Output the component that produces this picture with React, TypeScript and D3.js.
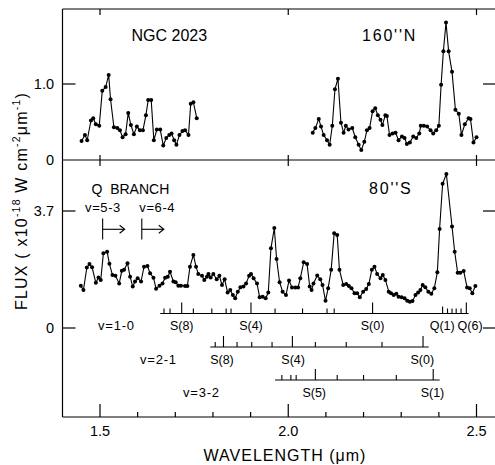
import React from 'react';
import * as d3 from 'd3';

// ---- data: [wavelength (µm), flux] ----
const north160W: [number, number][] = [
  [1.451,0.25],[1.460,0.33],[1.466,0.26],[1.476,0.52],[1.482,0.55],[1.489,0.47],[1.498,0.45],[1.506,0.91],
  [1.515,0.96],[1.523,1.12],[1.528,0.80],[1.537,0.43],[1.546,0.42],[1.553,0.39],[1.560,0.30],[1.568,0.34],
  [1.575,0.62],[1.582,0.46],[1.590,0.34],[1.598,0.44],[1.606,0.39],[1.614,0.39],[1.622,0.59],[1.628,0.79],
  [1.636,0.79],[1.643,0.26],[1.651,0.40],[1.660,0.40],[1.668,0.19],[1.676,0.29],[1.684,0.33],[1.690,0.35],
  [1.697,0.26],[1.703,0.20],[1.711,0.33],[1.719,0.38],[1.726,0.39],[1.735,0.33],[1.741,0.74],[1.748,0.76],
  [1.757,0.55],
];
const north160E: [number, number][] = [
  [2.065,0.36],[2.072,0.42],[2.081,0.54],[2.087,0.44],[2.094,0.33],[2.103,0.26],[2.110,0.20],[2.117,0.45],
  [2.124,0.93],[2.132,1.07],[2.140,0.49],[2.147,0.36],[2.153,0.45],[2.160,0.40],[2.170,0.42],[2.178,0.30],
  [2.187,0.20],[2.194,0.13],[2.202,0.24],[2.209,0.39],[2.216,0.42],[2.224,0.64],[2.231,0.68],[2.238,0.59],
  [2.245,0.53],[2.250,0.46],[2.258,0.59],[2.262,0.58],[2.269,0.33],[2.277,0.35],[2.285,0.36],[2.293,0.26],
  [2.302,0.31],[2.309,0.29],[2.315,0.21],[2.323,0.23],[2.332,0.31],[2.340,0.29],[2.348,0.35],[2.352,0.45],
  [2.360,0.45],[2.369,0.44],[2.378,0.39],[2.385,0.35],[2.393,0.39],[2.400,0.45],[2.406,0.99],[2.412,1.43],
  [2.419,1.81],[2.426,1.43],[2.435,1.16],[2.444,0.66],[2.453,0.61],[2.460,0.33],[2.469,0.47],[2.479,0.55],
  [2.484,0.54],[2.492,0.23],[2.500,0.30],
];
const south80: [number, number][] = [
  [1.449,1.34],[1.456,1.20],[1.465,1.91],[1.472,2.02],[1.479,1.92],[1.489,1.43],[1.496,1.60],[1.502,1.52],
  [1.509,2.36],[1.519,2.41],[1.525,2.03],[1.533,1.68],[1.541,1.65],[1.551,1.41],[1.558,1.81],[1.564,1.84],
  [1.573,2.05],[1.580,1.62],[1.587,1.31],[1.593,1.47],[1.600,1.57],[1.609,1.47],[1.617,1.94],[1.626,1.96],
  [1.633,1.73],[1.642,1.59],[1.649,1.24],[1.658,1.34],[1.666,1.41],[1.673,1.59],[1.680,1.62],[1.686,1.78],
  [1.695,1.47],[1.701,1.45],[1.708,1.34],[1.715,1.34],[1.726,1.33],[1.732,1.33],[1.739,1.94],[1.748,2.31],
  [1.755,1.94],[1.761,1.71],[1.771,1.65],[1.777,1.52],[1.784,1.62],[1.788,1.71],[1.794,1.60],[1.801,1.71],
  [1.810,1.54],[1.817,1.65],[1.824,1.36],[1.831,1.54],[1.839,1.12],[1.846,1.20],[1.853,1.04],[1.859,0.94],
  [1.866,1.15],[1.873,1.29],[1.881,1.31],[1.888,1.41],[1.896,1.65],[1.901,1.71],[1.908,1.57],[1.917,1.41],
  [1.924,0.97],[1.932,0.99],[1.940,0.94],[1.947,1.12],[1.954,2.52],[1.963,3.16],[1.969,2.18],[1.977,1.45],
  [1.985,1.15],[1.994,1.04],[2.002,1.50],[2.010,1.28],[2.019,1.28],[2.026,1.28],[2.032,1.57],[2.041,2.08],
  [2.050,2.02],[2.057,1.31],[2.062,1.20],[2.067,1.41],[2.077,1.66],[2.085,1.54],[2.091,1.36],[2.099,0.86],
  [2.106,1.26],[2.114,1.84],[2.122,3.00],[2.130,2.94],[2.136,1.84],[2.146,1.36],[2.154,1.39],[2.161,1.33],
  [2.168,1.26],[2.176,1.10],[2.183,1.10],[2.190,0.97],[2.199,1.15],[2.207,1.23],[2.214,1.39],[2.222,1.84],
  [2.229,1.94],[2.236,1.71],[2.245,1.57],[2.251,1.68],[2.258,1.52],[2.267,1.15],[2.273,1.10],[2.280,1.04],
  [2.287,1.08],[2.293,0.99],[2.301,0.97],[2.309,0.94],[2.316,0.86],[2.323,0.83],[2.330,0.85],[2.338,1.04],
  [2.345,1.12],[2.351,1.20],[2.357,1.36],[2.364,1.29],[2.372,1.15],[2.380,1.08],[2.388,1.26],[2.396,1.76],
  [2.402,3.13],[2.410,4.56],[2.420,4.87],[2.435,3.21],[2.442,2.41],[2.450,1.75],[2.457,1.75],[2.466,1.80],
  [2.475,1.28],[2.482,1.26],[2.489,1.10],[2.497,1.33],
];

// ---- axes ----
const xMajorTicks = [1.5, 2.0, 2.5];
const xMajorLabels = ['1.5', '2.0', '2.5'];
const xMinorTicks = [1.6, 1.7, 1.8, 1.9, 2.1, 2.2, 2.3, 2.4];
const topYTicks = [1.0];
const topYLabels = ['1.0', '0'];
const topYLabelValues = [1.0, 0];
const botYTicks = [3.7, 0];
const botYLabels = ['3.7', '0'];

// ---- line identifications (µm) ----
const ladderNames = ['v=1-0', 'v=2-1', 'v=3-2'];
const ladderRanges: [number, number][] = [[1.660, 2.479], [1.793, 2.373], [1.965, 2.402]];
const ladder10Ticks = [1.670, 1.686, 1.717, 1.748, 1.797, 1.835, 1.848, 1.901, 1.965, 2.038, 2.103, 2.122, 2.224,
  2.410, 2.423, 2.435, 2.446, 2.459, 2.473];
const ladder10Major = [1.717, 1.901, 2.224, 2.473];
const ladder10Mid = [2.410];
const ladder10Labels = ['S(8)', 'S(4)', 'S(0)', 'Q(1)', 'Q(6)'];
const ladder10LabelWl = [1.717, 1.901, 2.224, 2.409, 2.483];
const ladder21Ticks = [1.806, 1.828, 1.864, 1.903, 1.957, 2.011, 2.072, 2.154, 2.249, 2.358];
const ladder21Major = [1.828, 2.011, 2.358];
const ladder21Labels = ['S(8)', 'S(4)', 'S(0)'];
const ladder21LabelWl = [1.824, 2.013, 2.356];
const ladder32Ticks = [1.983, 2.007, 2.021, 2.072, 2.130, 2.200, 2.287, 2.385];
const ladder32Major = [2.072, 2.385];
const ladder32Labels = ['S(5)', 'S(1)'];
const ladder32LabelWl = [2.069, 2.383];

const qBranchStart = [1.507, 1.611];
const qBranchNames = ['v=5-3', 'v=6-4'];
const qBranchLabelWl = [1.508, 1.652];

const FONT = 'Liberation Sans, Arial, Helvetica, sans-serif';

export default function App() {
  const W = 495, H = 465;
  const left = 62.5, right = 495, top = 9, mid = 160, bottom = 417;
  const x = d3.scaleLinear().domain([1.5, 2.5]).range([100, 476.5]);
  const yT = d3.scaleLinear().domain([0, 1]).range([mid, 84]);
  const yB = d3.scaleLinear().domain([0, 3.7]).range([328, 211]);

  const lineT = d3.line<[number, number]>().x(d => x(d[0])).y(d => yT(d[1]));
  const lineB = d3.line<[number, number]>().x(d => x(d[0])).y(d => yB(d[1]));

  const ladders = [
    { ticks: ladder10Ticks, major: ladder10Major, mid: ladder10Mid, labels: ladder10Labels, labelWl: ladder10LabelWl, y: 313.5, ly: 329.5, nameX: 98, nameY: 330 },
    { ticks: ladder21Ticks, major: ladder21Major, mid: [] as number[], labels: ladder21Labels, labelWl: ladder21LabelWl, y: 347, ly: 363.5, nameX: 140, nameY: 363.5 },
    { ticks: ladder32Ticks, major: ladder32Major, mid: [] as number[], labels: ladder32Labels, labelWl: ladder32LabelWl, y: 380, ly: 396.5, nameX: 183, nameY: 396.5 },
  ];

  const dots = (data: [number, number][], y: (v: number) => number, key: string) =>
    data.map((d, i) => <circle key={key + i} cx={x(d[0])} cy={y(d[1])} r={2} fill="#000" />);

  return (
    <div style={{ position: 'absolute', left: 0, top: 0 }}>
      <svg width={W} height={H} style={{ display: 'block', background: '#fff' }} fontFamily={FONT}>
        <rect width={W} height={H} fill="#fff" />
        {/* frame */}
        <g stroke="#000" strokeWidth={1.2} fill="none">
          <line x1={left} y1={top} x2={left} y2={bottom} />
          <line x1={left} y1={top} x2={right} y2={top} />
          <line x1={left} y1={mid} x2={right} y2={mid} />
          <line x1={left} y1={bottom} x2={right} y2={bottom} />
          {xMajorTicks.map((t, i) => (
            <g key={'xm' + i}>
              <line x1={x(t)} x2={x(t)} y1={bottom} y2={bottom - 13} />
              <line x1={x(t)} x2={x(t)} y1={top} y2={top + 6} />
              <line x1={x(t)} x2={x(t)} y1={mid - 5} y2={mid + 6} />
            </g>
          ))}
          {xMinorTicks.map((t, i) => (
            <line key={'xn' + i} x1={x(t)} x2={x(t)} y1={bottom} y2={bottom - 5} />
          ))}
          {topYTicks.map((t, i) => (
            <g key={'ty' + i}>
              <line x1={left} x2={left + 13} y1={yT(t)} y2={yT(t)} />
              <line x1={right - 12} x2={right} y1={yT(t)} y2={yT(t)} />
            </g>
          ))}
          {botYTicks.map((t, i) => (
            <g key={'by' + i}>
              <line x1={left} x2={left + 13} y1={yB(t)} y2={yB(t)} />
              <line x1={right - 12} x2={right} y1={yB(t)} y2={yB(t)} />
            </g>
          ))}
        </g>

        {/* tick labels */}
        <g fontSize={14.5} fill="#000">
          {xMajorTicks.map((t, i) => (
            <text key={'xl' + i} x={x(t)} y={435.5} textAnchor="middle">{xMajorLabels[i]}</text>
          ))}
          {topYLabelValues.map((v, i) => (
            <text key={'tyl' + i} x={54} y={yT(v)} dy="0.36em" textAnchor="end">{topYLabels[i]}</text>
          ))}
          {botYTicks.map((v, i) => (
            <text key={'byl' + i} x={54} y={yB(v)} dy="0.36em" textAnchor="end">{botYLabels[i]}</text>
          ))}
        </g>

        {/* axis titles */}
        <text x={285} y={461} textAnchor="middle" fontSize={16} letterSpacing={1}>WAVELENGTH (μm)</text>
        <text transform="translate(27,310) rotate(-90)" fontSize={16} letterSpacing={1.2}>
          FLUX ( x10<tspan fontSize={10.5} dy={-7}>-18</tspan>
          <tspan dy={7}> W cm</tspan><tspan fontSize={10.5} dy={-7}>-2</tspan>
          <tspan dy={7}>μm</tspan><tspan fontSize={10.5} dy={-7}>-1</tspan><tspan dy={7}>)</tspan>
        </text>

        {/* panel labels */}
        <text x={131.5} y={41} fontSize={16}>NGC 2023</text>
        <text x={362} y={40.5} fontSize={16} letterSpacing={1.8}>160''N</text>
        <text x={369} y={193.5} fontSize={16} letterSpacing={1.8}>80''S</text>

        {/* data */}
        <g fill="none" stroke="#000" strokeWidth={1.1}>
          <path d={lineT(north160W) || ''} />
          <path d={lineT(north160E) || ''} />
          <path d={lineB(south80) || ''} />
        </g>
        {dots(north160W, yT, 'a')}
        {dots(north160E, yT, 'b')}
        {dots(south80, yB, 'c')}

        {/* Q branch */}
        <text x={91.5} y={193.5} fontSize={14} style={{ whiteSpace: 'pre' }}>Q  BRANCH</text>
        {qBranchStart.map((w, i) => (
          <g key={'q' + i} stroke="#000" strokeWidth={1.1} fill="none">
            <line x1={x(w)} x2={x(w)} y1={218.5} y2={239.5} />
            <line x1={x(w)} x2={x(w) + 22} y1={229.3} y2={229.3} />
            <polyline points={`${x(w) + 17},${225.3} ${x(w) + 22},${229.3} ${x(w) + 17},${233.3}`} />
          </g>
        ))}
        {qBranchNames.map((n, i) => (
          <text key={'qn' + i} x={x(qBranchLabelWl[i])} y={211.5} fontSize={13} textAnchor="middle" letterSpacing={0.6}>{n}</text>
        ))}

        {/* ladders */}
        {ladders.map((L, li) => (
          <g key={'L' + li}>
            <line x1={x(ladderRanges[li][0])} x2={x(ladderRanges[li][1])} y1={L.y} y2={L.y} stroke="#000" strokeWidth={1.1} />
            {L.ticks.map((t, i) => {
              const h = L.major.includes(t) ? 11 : L.mid.includes(t) ? 7 : 5;
              return <line key={'t' + i} x1={x(t)} x2={x(t)} y1={L.y} y2={L.y - h} stroke="#000" strokeWidth={1.1} />;
            })}
            {L.labels.map((lab, i) => (
              <text key={'l' + i} x={x(L.labelWl[i])} y={L.ly} fontSize={12.5} textAnchor="middle">{lab}</text>
            ))}
            <text x={L.nameX} y={L.nameY} fontSize={13} letterSpacing={0.8}>{ladderNames[li]}</text>
          </g>
        ))}
      </svg>
    </div>
  );
}
